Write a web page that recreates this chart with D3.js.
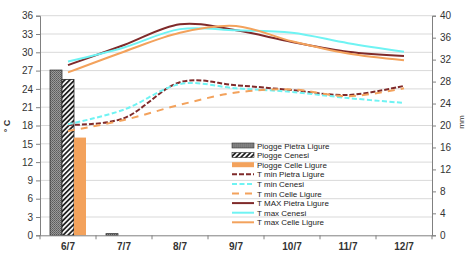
<!DOCTYPE html>
<html>
<head>
<meta charset="utf-8">
<script src="https://cdn.jsdelivr.net/npm/d3@7"></script>
<style>
  body { margin: 0; background: #fff; }
  svg { display: block; font-family: "Liberation Sans", Arial, sans-serif; }
</style>
</head>
<body>
<svg id="chart" width="465" height="257"></svg>
<script>
// data
var days = ["6/7", "7/7", "8/7", "9/7", "10/7", "11/7", "12/7"];

// rain, mm (right axis)
var rainPietra = [30.1, 0.3, 0, 0, 0, 0, 0];
var rainCenesi = [28.4, 0, 0, 0, 0, 0, 0];
var rainCelle  = [17.8, 0, 0, 0, 0, 0, 0];

// temperatures, deg C (left axis)
var tminPietra = [18.1, 19.2, 25.1, 24.6, 23.8, 23.0, 24.5];
var tminCenesi = [18.2, 20.6, 24.8, 24.1, 23.5, 22.5, 21.7];
var tminCelle  = [17.1, 18.9, 21.4, 23.4, 23.9, 22.8, 24.1];
var tmaxPietra = [27.9, 31.2, 34.6, 33.6, 31.7, 30.1, 29.4];
var tmaxCenesi = [28.5, 30.8, 33.8, 33.6, 33.2, 31.5, 30.1];
var tmaxCelle  = [26.7, 30.1, 33.2, 34.3, 31.8, 29.8, 28.7];

var leftTicks = d3.range(0, 37, 3);
var rightTicks = d3.range(0, 41, 4);

var svg = d3.select("#chart");
var defs = svg.append("defs");

// fine dotted grey fill
var p1 = defs.append("pattern").attr("id", "dots")
  .attr("width", 2).attr("height", 2).attr("patternUnits", "userSpaceOnUse");
p1.append("rect").attr("width", 2).attr("height", 2).attr("fill", "#9a9a9a");
p1.append("rect").attr("width", 1).attr("height", 1).attr("fill", "#5a5a5a");
p1.append("rect").attr("x", 1).attr("y", 1).attr("width", 1).attr("height", 1).attr("fill", "#6a6a6a");

// diagonal hatching
var p2 = defs.append("pattern").attr("id", "hatch")
  .attr("width", 3.5).attr("height", 3.5).attr("patternUnits", "userSpaceOnUse")
  .attr("patternTransform", "rotate(45)");
p2.append("rect").attr("width", 3.5).attr("height", 3.5).attr("fill", "#fff");
p2.append("rect").attr("width", 1.8).attr("height", 3.5).attr("fill", "#222");

var plotL = 40, plotR = 432, plotT = 15.7, plotB = 235.3;

var x = d3.scaleBand().domain(days).range([plotL, plotR]).padding(0);
var xs = d3.scaleBand().domain(["pietra", "cenesi", "celle"]).range([10, 46]).padding(0);
var y = d3.scaleLinear().domain([0, 36]).range([plotB, plotT]);
var yr = d3.scaleLinear().domain([0, 40]).range([plotB, plotT]);

// grid
svg.append("g").selectAll("line").data(leftTicks.slice(1)).enter().append("line")
  .attr("x1", plotL).attr("x2", plotR)
  .attr("y1", function (d) { return y(d); }).attr("y2", function (d) { return y(d); })
  .attr("stroke", "#d9d9d9").attr("stroke-width", 1);

// bars
var rainSeries = [
  { key: "pietra", vals: rainPietra, fill: "url(#dots)", stroke: "#333" },
  { key: "cenesi", vals: rainCenesi, fill: "url(#hatch)", stroke: "#222" },
  { key: "celle", vals: rainCelle, fill: "#f3a25c", stroke: "none" }
];
rainSeries.forEach(function (s) {
  var pts = s.vals.map(function (v, i) { return { day: days[i], v: v }; })
    .filter(function (d) { return d.v > 0; });
  svg.append("g").selectAll("rect").data(pts).enter().append("rect")
    .attr("x", function (d) { return x(d.day) + xs(s.key); })
    .attr("width", xs.bandwidth())
    .attr("y", function (d) { return yr(d.v); })
    .attr("height", function (d) { return plotB - yr(d.v); })
    .attr("fill", s.fill)
    .attr("stroke", s.stroke)
    .attr("stroke-width", 0.8);
});

// lines
var lineSeries = [
  { vals: tminPietra, color: "#7f2a2a", dash: "5,2" },
  { vals: tminCenesi, color: "#6ff3f3", dash: "5,2.5" },
  { vals: tminCelle, color: "#f3a25c", dash: "7,6" },
  { vals: tmaxPietra, color: "#7f2a2a", dash: null },
  { vals: tmaxCenesi, color: "#6ff3f3", dash: null },
  { vals: tmaxCelle, color: "#f3a25c", dash: null }
];
var line = d3.line()
  .x(function (d, i) { return x(days[i]) + x.bandwidth() / 2; })
  .y(function (d) { return y(d); })
  .curve(d3.curveCardinal.tension(0));
lineSeries.forEach(function (s) {
  svg.append("path").attr("d", line(s.vals))
    .attr("fill", "none").attr("stroke", s.color).attr("stroke-width", 2)
    .attr("stroke-dasharray", s.dash);
});

// axes
var axisColor = "#808080";
var gl = svg.append("g").attr("transform", "translate(" + plotL + ",0)")
  .call(d3.axisLeft(y).tickValues(leftTicks).tickSize(4).tickPadding(3));
var gr = svg.append("g").attr("transform", "translate(" + plotR + ",0)")
  .call(d3.axisRight(yr).tickValues(rightTicks).tickSize(4).tickPadding(4));
var gx = svg.append("g").attr("transform", "translate(0," + plotB + ")")
  .call(d3.axisBottom(x).tickSize(0).tickPadding(8));
// x ticks between categories
svg.append("g").selectAll("line").data(d3.range(days.length + 1)).enter().append("line")
  .attr("x1", function (d) { return plotL + d * x.bandwidth(); })
  .attr("x2", function (d) { return plotL + d * x.bandwidth(); })
  .attr("y1", plotB).attr("y2", plotB + 4)
  .attr("stroke", axisColor);

[gl, gr, gx].forEach(function (g) {
  g.select(".domain").attr("stroke", axisColor);
  g.selectAll(".tick line").attr("stroke", axisColor);
  g.selectAll("text").attr("fill", "#333").style("font-size", "10px");
});
gx.selectAll("text").style("font-weight", "bold");

// axis titles
svg.append("text").attr("transform", "translate(10,126) rotate(-90)")
  .attr("text-anchor", "middle").attr("fill", "#333").style("font-size", "9px")
  .style("font-weight", "bold").text("\u00B0 C");
svg.append("text").attr("transform", "translate(464,122) rotate(-90)")
  .attr("text-anchor", "middle").attr("fill", "#333").style("font-size", "8px")
  .text("mm");

// legend
var legendItems = [
  { label: "Piogge Pietra Ligure", type: "rect", fill: "url(#dots)", stroke: "#333" },
  { label: "Piogge Cenesi", type: "rect", fill: "url(#hatch)", stroke: "#222" },
  { label: "Piogge Celle Ligure", type: "rect", fill: "#f3a25c", stroke: "none" },
  { label: "T min Pietra Ligure", type: "line", color: "#7f2a2a", dash: "5,2" },
  { label: "T min Cenesi", type: "line", color: "#6ff3f3", dash: "5,2.5" },
  { label: "T min Celle Ligure", type: "line", color: "#f3a25c", dash: "7,6" },
  { label: "T MAX Pietra Ligure", type: "line", color: "#7f2a2a", dash: null },
  { label: "T max Cenesi", type: "line", color: "#6ff3f3", dash: null },
  { label: "T max Celle Ligure", type: "line", color: "#f3a25c", dash: null }
];
var lg = svg.append("g").attr("transform", "translate(232,145.5)");
var item = lg.selectAll("g").data(legendItems).enter().append("g")
  .attr("transform", function (d, i) { return "translate(0," + i * 9.6 + ")"; });
item.filter(function (d) { return d.type === "rect"; }).append("rect")
  .attr("x", 0).attr("y", -2.5).attr("width", 22).attr("height", 5)
  .attr("fill", function (d) { return d.fill; })
  .attr("stroke", function (d) { return d.stroke; }).attr("stroke-width", 0.6);
item.filter(function (d) { return d.type === "line"; }).append("line")
  .attr("x1", 0).attr("x2", 22).attr("y1", 0).attr("y2", 0)
  .attr("stroke", function (d) { return d.color; }).attr("stroke-width", 2)
  .attr("stroke-dasharray", function (d) { return d.dash; });
item.append("text").attr("x", 25).attr("y", 3)
  .attr("fill", "#222").style("font-size", "8px")
  .text(function (d) { return d.label; });
</script>
</body>
</html>
